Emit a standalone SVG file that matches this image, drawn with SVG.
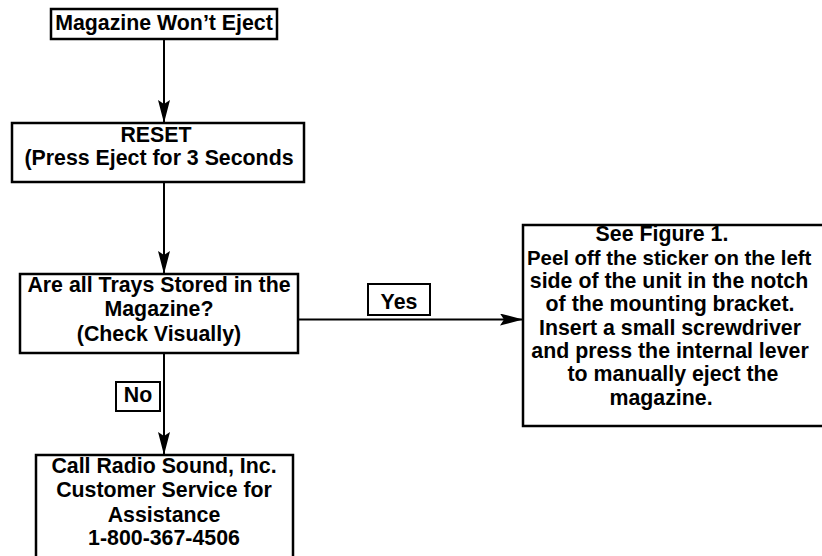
<svg xmlns="http://www.w3.org/2000/svg" width="822" height="556" viewBox="0 0 822 556">
<style>
.box{fill:#fff;stroke:#000;stroke-width:2.5}
.lbl{fill:#fff;stroke:#000;stroke-width:2}
.t{font-family:"Liberation Sans",Arial,Helvetica,sans-serif;font-weight:bold;font-size:21.33px;fill:#000;text-anchor:middle}
.c{fill:none;stroke:#000;stroke-width:2}
</style>
<defs>
<marker id="ah" markerUnits="userSpaceOnUse" markerWidth="24" markerHeight="14" refX="23" refY="6" orient="auto">
<path d="M0,0 L23,6 L0,12 L4,6 Z" fill="#000"/>
</marker>
</defs>
<rect width="822" height="556" fill="#fff"/>
<g id="connectors">
<line class="c" x1="164" y1="39" x2="164" y2="123" marker-end="url(#ah)"/>
<line class="c" x1="164" y1="182" x2="164" y2="274" marker-end="url(#ah)"/>
<line class="c" x1="298" y1="319.5" x2="523" y2="319.5" marker-end="url(#ah)"/>
<line class="c" x1="164" y1="353" x2="164" y2="455" marker-end="url(#ah)"/>
</g>
<g id="start">
<rect class="box" x="51" y="9" width="226" height="30"/>
<text class="t" x="164" y="30">Magazine Won’t Eject</text>
</g>
<g id="reset">
<rect class="box" x="12" y="123" width="292" height="59"/>
<text class="t" x="156" y="142">RESET</text>
<text class="t" x="159" y="165">(Press Eject for 3 Seconds</text>
</g>
<g id="decision">
<rect class="box" x="20" y="274" width="278" height="79"/>
<text class="t" x="159" y="292">Are all Trays Stored in the</text>
<text class="t" x="159" y="316">Magazine?</text>
<text class="t" x="159" y="341">(Check Visually)</text>
</g>
<g id="yes-label">
<rect class="lbl" x="368" y="284" width="62" height="31"/>
<text class="t" x="399" y="309">Yes</text>
</g>
<g id="no-label">
<rect class="lbl" x="116" y="382" width="44" height="29"/>
<text class="t" x="138" y="402">No</text>
</g>
<g id="manual">
<rect class="box" x="523" y="225" width="320" height="201"/>
<text class="t" x="662" y="241">See Figure 1.</text>
<text class="t" x="527" y="265" style="text-anchor:start;font-size:20.4px">Peel off the sticker on the left</text>
<text class="t" x="669" y="288">side of the unit in the notch</text>
<text class="t" x="670" y="311">of the mounting bracket.</text>
<text class="t" x="670" y="335">Insert a small screwdriver</text>
<text class="t" x="670" y="358">and press the internal lever</text>
<text class="t" x="673" y="381">to manually eject the</text>
<text class="t" x="661" y="405">magazine.</text>
</g>
<g id="call">
<rect class="box" x="36" y="455" width="257" height="120"/>
<text class="t" x="164" y="473">Call Radio Sound, Inc.</text>
<text class="t" x="164" y="497">Customer Service for</text>
<text class="t" x="164" y="522">Assistance</text>
<text class="t" x="164" y="545">1-800-367-4506</text>
</g>
</svg>
